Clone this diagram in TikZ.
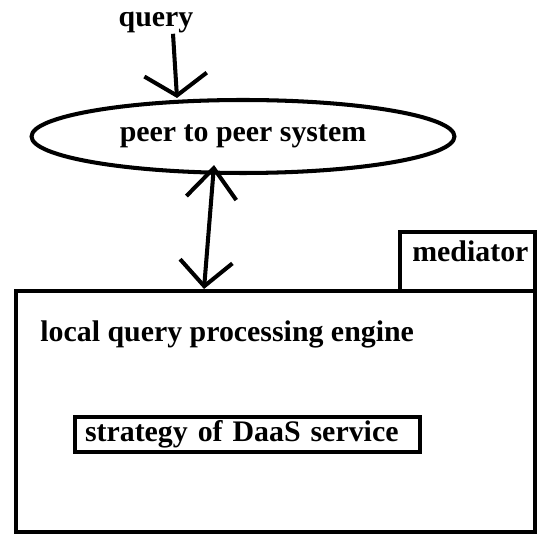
\documentclass[tikz,border=0pt]{standalone}
\usepackage{fontspec}
\setmainfont{Liberation Serif}
\usepackage{tikz}
\usetikzlibrary{positioning,arrows.meta,shapes.geometric}

\begin{document}
\begin{tikzpicture}[x=0.02cm,y=-0.02cm,
  txt/.style={font=\bfseries\fontsize{17}{20}\selectfont,inner sep=0pt},
  box/.style={draw,line width=2.3pt,rectangle,inner sep=0pt},
  arrq/.style={line width=2.3pt,-{Straight Barb[length=0.42cm,width=1.25cm]}},
  arrio/.style={line width=2.3pt,{Straight Barb[length=0.5cm,width=1.05cm]}-{Straight Barb[length=0.6cm,width=1.0cm]}}]
\useasboundingbox (0,0) rectangle (538,536);
% incoming query and the p2p layer
\node[txt,anchor=base] (query) at (156,27) {query};
\node[draw,ellipse,line width=2.3pt,minimum width=8.46cm,minimum height=1.46cm,inner sep=0pt,
  font=\bfseries\fontsize{17}{20}\selectfont] (p2p) at (243,136.5) {peer to peer system};
% mediator
\node[box,minimum width=10.38cm,minimum height=4.82cm] (engine) at (275.5,411.5) {};
\node[box,minimum width=2.7cm,minimum height=1.18cm] (mediator) at (467.5,261.5) {};
\node[txt,anchor=base west] (medtxt) at (412,262) {mediator};
\node[txt,anchor=base west] (lqpe) at (40,342) {local query processing engine};
\node[box,font=\bfseries\fontsize{17}{20}\selectfont,align=left,text width=6.5cm,
  inner xsep=0.2cm,minimum height=0.7cm] (daas) at (247.5,434.5) {strategy of DaaS service};
% connectors
\draw[arrq] ([xshift=0.34cm]query.south) -- ([xshift=-1.32cm]p2p.north);
\draw[arrio] ([xshift=-1.43cm]engine.north) -- ([xshift=-0.58cm,yshift=0.2cm]p2p.south);
\end{tikzpicture}
\end{document}
